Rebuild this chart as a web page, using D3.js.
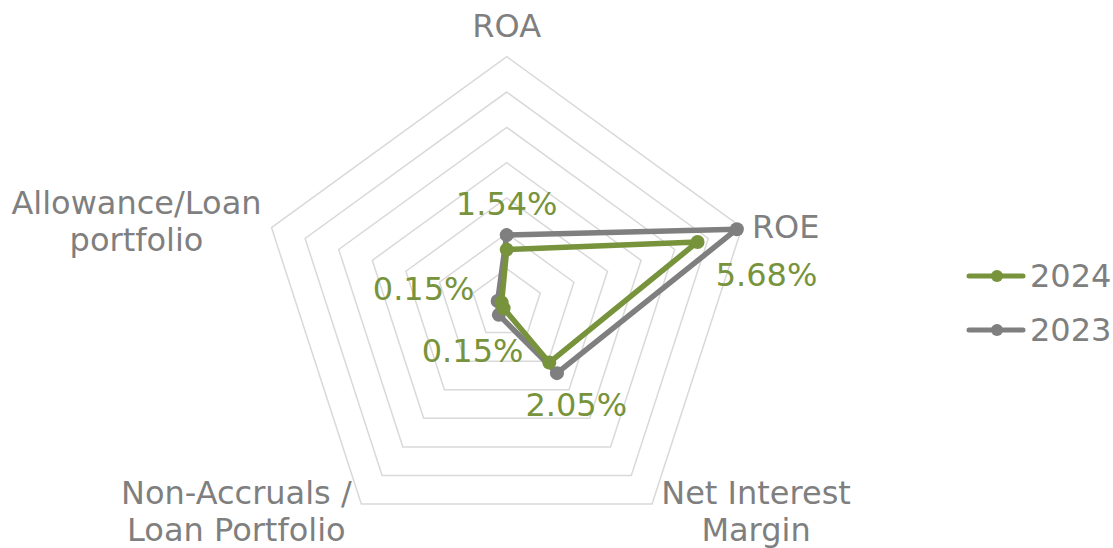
<!DOCTYPE html>
<html>
<head>
<meta charset="utf-8">
<script src="https://cdn.jsdelivr.net/npm/d3@7"></script>
<style>
  html, body { margin: 0; padding: 0; background: #ffffff; }
  svg text { font-family: "DejaVu Sans", Verdana, sans-serif; }
</style>
</head>
<body>
<svg id="chart" width="1113" height="548"></svg>
<script>
// ---- Data ----
const categories = ["ROA", "ROE", "Net Interest Margin", "Non-Accruals / Loan Portfolio", "Allowance/Loan portfolio"];
const categoryLines = [["ROA"], ["ROE"], ["Net Interest", "Margin"], ["Non-Accruals /", "Loan Portfolio"], ["Allowance/Loan", "portfolio"]];
const seriesNames = ["2024", "2023"];
const values2024 = [1.54, 5.68, 2.05, 0.15, 0.15];
const values2023 = [1.95, 6.85, 2.42, 0.38, 0.27];
const labels2024 = ["1.54%", "5.68%", "2.05%", "0.15%", "0.15%"];
const gridTicks = [1, 2, 3, 4, 5, 6, 7];

// ---- Layout ----
const cx = 506.7, cy = 304, R = 247.3;
const colors = { "2024": "#77933C", "2023": "#7F7F7F" };
const textGray = "#7F7F7F";
const fontSize = 32;

const svg = d3.select("#chart");
const g = svg.append("g").attr("transform", `translate(${cx},${cy})`);

const r = d3.scaleLinear().domain([0, 7]).range([0, R]);
const angle = d3.scaleLinear().domain([0, categories.length]).range([0, 2 * Math.PI]);

function pt(i, v) {
  const a = angle(i);
  return [r(v) * Math.sin(a), -r(v) * Math.cos(a)];
}

// Grid pentagons
const gridLine = d3.line().curve(d3.curveLinearClosed);
g.selectAll("path.grid")
  .data(gridTicks)
  .join("path")
  .attr("class", "grid")
  .attr("d", t => gridLine(categories.map((c, i) => pt(i, t))))
  .attr("fill", "none")
  .attr("stroke", "#D9D9D9")
  .attr("stroke-width", 1.5);

// Series
const series = [
  { name: "2023", values: values2023 },
  { name: "2024", values: values2024 }
];
const radial = d3.lineRadial()
  .angle((d, i) => angle(i))
  .radius(d => r(d))
  .curve(d3.curveLinearClosed);

const sg = g.selectAll("g.series").data(series).join("g").attr("class", "series");
sg.append("path")
  .attr("d", d => radial(d.values))
  .attr("fill", "none")
  .attr("stroke", d => colors[d.name])
  .attr("stroke-width", 5.5)
  .attr("stroke-linejoin", "round");
sg.selectAll("circle")
  .data(d => d.values.map((v, i) => ({ v, i, name: d.name })))
  .join("circle")
  .attr("cx", d => pt(d.i, d.v)[0])
  .attr("cy", d => pt(d.i, d.v)[1])
  .attr("r", 7)
  .attr("fill", d => colors[d.name]);

// Category labels (offsets from axis end vertex)
const catOffsets = [
  { dx: 0, dy: -20, anchor: "middle" },
  { dx: 10, dy: 10, anchor: "start" },
  { dx: 104, dy: 0, anchor: "middle" },
  { dx: -125, dy: 0, anchor: "middle" },
  { dx: -135, dy: -14, anchor: "middle" }
];
const lineH = 37;
categoryLines.forEach((lines, i) => {
  const [x, y] = pt(i, 7);
  const o = catOffsets[i];
  const t = g.append("text")
    .attr("x", x + o.dx)
    .attr("y", y + o.dy)
    .attr("text-anchor", o.anchor)
    .attr("fill", textGray)
    .attr("font-size", fontSize);
  lines.forEach((ln, k) => {
    t.append("tspan").attr("x", x + o.dx).attr("dy", k === 0 ? 0 : lineH).text(ln);
  });
});

// Data labels for 2024
const lblOffsets = [
  { dx: 0, dy: -35 },
  { dx: 69, dy: 44 },
  { dx: 27, dy: 53 },
  { dx: -31, dy: 54 },
  { dx: -78, dy: -2 }
];
g.selectAll("text.dl")
  .data(values2024.map((v, i) => ({ v, i })))
  .join("text")
  .attr("class", "dl")
  .attr("x", d => pt(d.i, d.v)[0] + lblOffsets[d.i].dx)
  .attr("y", d => pt(d.i, d.v)[1] + lblOffsets[d.i].dy)
  .attr("text-anchor", "middle")
  .attr("fill", colors["2024"])
  .attr("font-size", fontSize)
  .text(d => labels2024[d.i]);

// Legend
const legend = svg.append("g").attr("transform", "translate(969,276)");
const li = legend.selectAll("g").data(seriesNames).join("g")
  .attr("transform", (d, i) => `translate(0,${i * 54})`);
li.append("line").attr("x1", 0).attr("x2", 54).attr("y1", 0).attr("y2", 0)
  .attr("stroke", d => colors[d]).attr("stroke-width", 5).attr("stroke-linecap", "round");
li.append("circle").attr("cx", 28).attr("cy", 0).attr("r", 6).attr("fill", d => colors[d]);
li.append("text").attr("x", 61).attr("y", 11)
  .attr("fill", textGray).attr("font-size", fontSize).text(d => d);
</script>
</body>
</html>
